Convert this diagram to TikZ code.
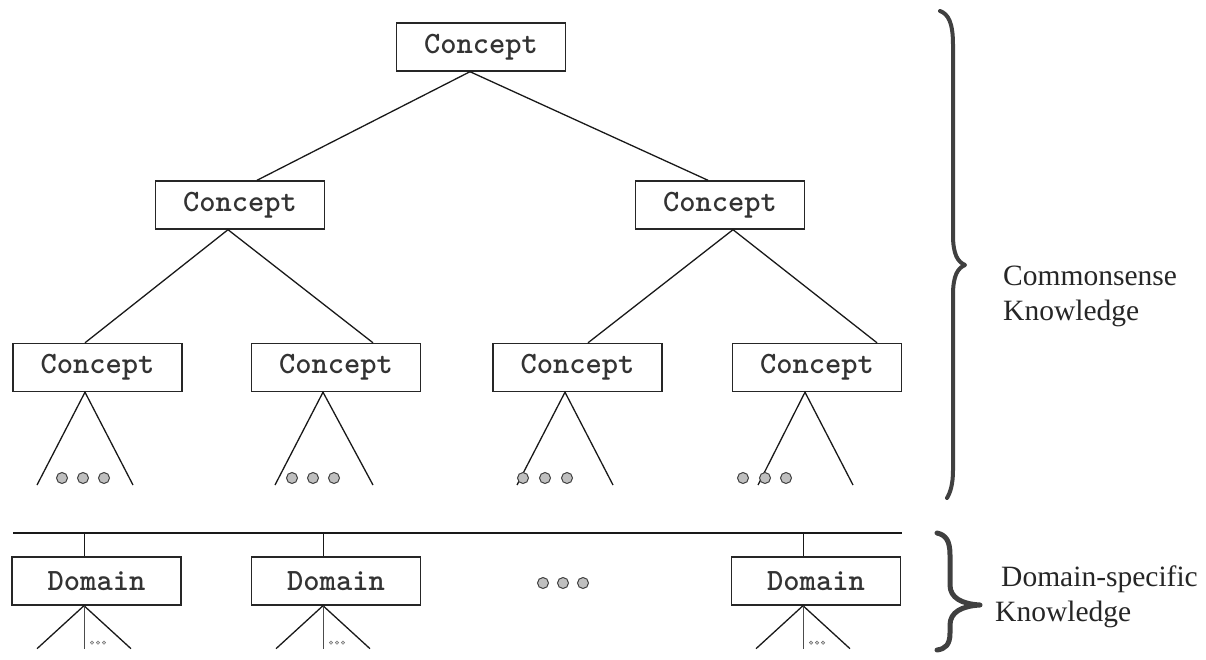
\documentclass[tikz,border=0pt]{standalone}
\usepackage{fontspec}
\setmainfont{Liberation Serif}
\usetikzlibrary{calc}
\begin{document}
\begin{tikzpicture}[x=1pt,y=-1pt,
  box/.style={draw=black!85, line width=1.4pt, inner sep=0pt, minimum width=169pt,
    minimum height=48pt, font=\ttfamily\bfseries\fontsize{31}{31}\selectfont, text=black!80},
  edge/.style={draw=black!90, line width=1.3pt},
  thin edge/.style={draw=black!70, line width=0.8pt},
  bigdot/.style={circle, fill=gray!50, draw=black!75, line width=1pt, inner sep=0pt, minimum size=11pt},
  smalldot/.style={circle, fill=gray!40, draw=black!60, line width=0.4pt, inner sep=0pt, minimum size=3.5pt},
  bracestyle/.style={draw=black!75, line width=4pt, line cap=round, line join=round},
  label/.style={font=\fontsize{29.5}{35}\selectfont, text=black!85, align=left, anchor=west, inner sep=0pt}]
\useasboundingbox (0,0) rectangle (1206,660);

% concept hierarchy
\node[box] (c0)  at (481,47)    {Concept};
\node[box] (c1)  at (240,205)   {Concept};
\node[box] (c2)  at (720,205)   {Concept};
\node[box] (c11) at (97.5,367.5) {Concept};
\node[box] (c12) at (336,367.5)  {Concept};
\node[box] (c21) at (577.5,367.5) {Concept};
\node[box] (c22) at (817,367.5)  {Concept};

\draw[edge] ([xshift=-11pt]c0.south) -- ([xshift=17pt]c1.north);
\draw[edge] ([xshift=-11pt]c0.south) -- ([xshift=-12pt]c2.north);
\draw[edge] ([xshift=-12pt]c1.south) -- ([xshift=-12.5pt]c11.north);
\draw[edge] ([xshift=-12pt]c1.south) -- ([xshift=37pt]c12.north);
\draw[edge] ([xshift=13pt]c2.south) -- ([xshift=10.5pt]c21.north);
\draw[edge] ([xshift=13pt]c2.south) -- ([xshift=60pt]c22.north);

% open subtrees below the lowest concepts
\coordinate (t11l) at (37,485);  \coordinate (t11r) at (133,485);
\coordinate (t12l) at (275,485); \coordinate (t12r) at (373,485);
\coordinate (t21l) at (517,485); \coordinate (t21r) at (613,485);
\coordinate (t22l) at (758,485); \coordinate (t22r) at (853,485);
\draw[edge] (t11l) -- ([xshift=-12.5pt]c11.south) -- (t11r);
\draw[edge] (t12l) -- ([xshift=-13pt]c12.south) -- (t12r);
\draw[edge] (t21l) -- ([xshift=-12.5pt]c21.south) -- (t21r);
\draw[edge] (t22l) -- ([xshift=-12pt]c22.south) -- (t22r);

\foreach \x [count=\i] in {62,83,104}   \node[bigdot] (d11\i) at (\x,478) {};
\foreach \x [count=\i] in {292,313,334} \node[bigdot] (d12\i) at (\x,478) {};
\foreach \x [count=\i] in {523,545,567} \node[bigdot] (d21\i) at (\x,478) {};
\foreach \x [count=\i] in {743,765,786} \node[bigdot] (d22\i) at (\x,478) {};

% domain layer
\coordinate (busw) at (13,533);
\coordinate (buse) at (902,533);
\draw[edge] (busw) -- (buse);

\node[box] (dm1) at (96.5,581) {Domain};
\node[box] (dm2) at (336,581)  {Domain};
\node[box] (dm3) at (816,581)  {Domain};
\foreach \x [count=\i] in {543,563,583} \node[bigdot] (dm\i dot) at (\x,583) {};

\foreach \n/\s in {dm1/-12.5, dm2/-13, dm3/-13} {
  \coordinate (\n top) at ([xshift=\s pt]\n.north);
  \coordinate (\n apex) at ([xshift=\s pt]\n.south);
  \draw[edge, line width=1pt] (\n top |- busw) -- (\n top);
  \draw[edge] ($(\n apex)+(-47,43)$) -- (\n apex) -- ($(\n apex)+(47,43)$);
  \draw[thin edge] (\n apex) -- ($(\n apex)+(0,43)$);
  \foreach \k in {1,2,3}
    \node[smalldot] at ($(\n apex)+(2+6*\k,37)$) {};
}

% braces and their labels
\draw[bracestyle] (940,11) .. controls (948,14) and (953,22) .. (953,45)
  -- (953,235) .. controls (953,255) and (958,262) .. (965,265)
  .. controls (958,268) and (953,275) .. (953,295)
  -- (953,470) .. controls (953,485) and (950,493) .. (947,498);
\draw[bracestyle, line width=5pt] (937,533) .. controls (946,535) and (950,541) .. (950,555)
  -- (950,585) .. controls (950,598) and (962,604) .. (980,605)
  .. controls (962,606) and (950,612) .. (950,625)
  -- (950,633) .. controls (950,645) and (945,649) .. (937,650);

\node[label] (common) at (1003,296) {Commonsense\\Knowledge};
\node[label] (domspec) at (995,597) {\hspace*{6pt}Domain-specific\\Knowledge};
\end{tikzpicture}
\end{document}
